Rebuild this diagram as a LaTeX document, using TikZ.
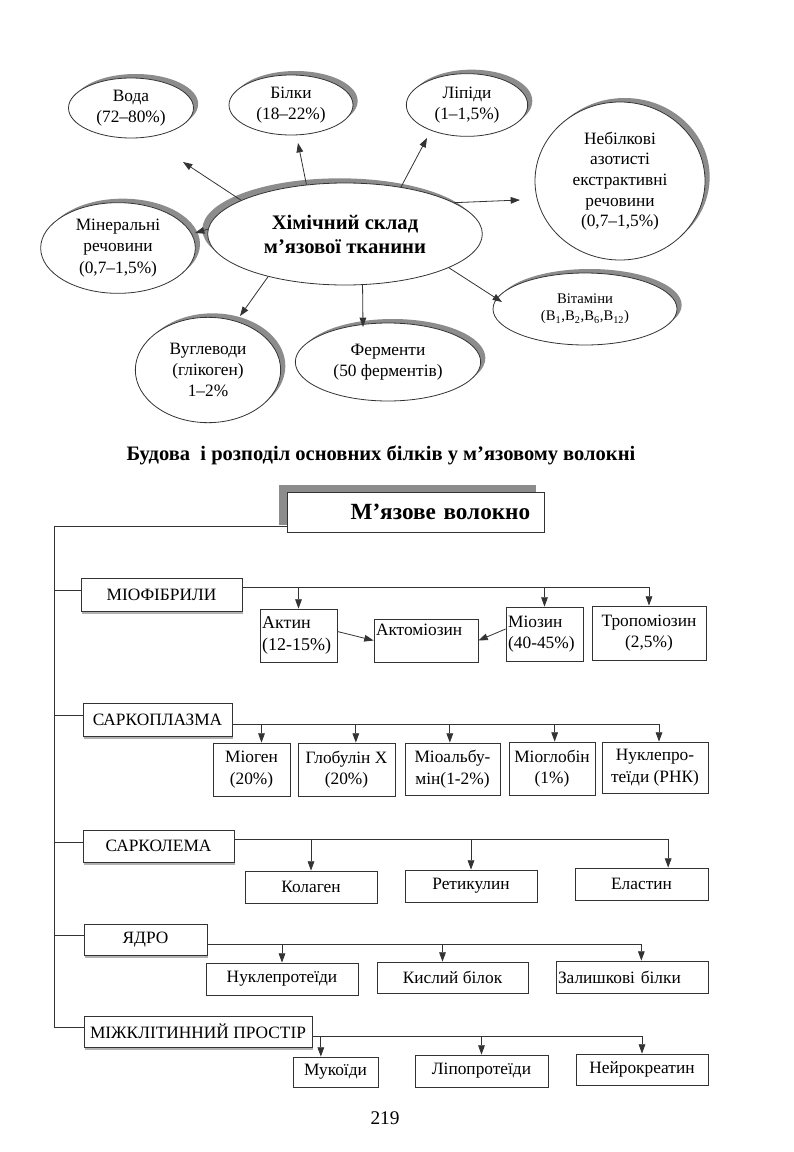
\documentclass[tikz,border=0pt]{standalone}
\usepackage{fontspec}
\setmainfont{Liberation Serif}
\usetikzlibrary{shapes.geometric, arrows.meta, shadows}
\tikzstyle{blob} = [ellipse, draw=black!80, line width=0.6pt, fill=white, inner sep=0pt, align=center, font=\fontsize{13}{16}\selectfont]
\tikzstyle{rimshadow} = [drop shadow={shadow xshift=3.5pt, shadow yshift=3pt, fill=black!45, opacity=1}]
\tikzstyle{leftshadow} = [drop shadow={shadow xshift=-4pt, shadow yshift=3.5pt, fill=black!45, opacity=1}]
\tikzstyle{part} = [rectangle, draw=black!80, line width=0.6pt, fill=white, inner sep=2pt, font=\fontsize{13}{16}\selectfont, drop shadow={shadow xshift=1pt, shadow yshift=-2pt, fill=black!30, opacity=1}]
\tikzstyle{item} = [rectangle, draw=black!80, line width=0.6pt, fill=white, inner sep=1.5pt, align=center, font=\fontsize{13}{16}\selectfont]
\tikzstyle{arrow} = [line width=0.6pt, draw=black!80, -{Triangle[length=7pt,width=5pt]}]
\tikzstyle{wire} = [line width=0.6pt, draw=black!80]

\begin{document}
\begin{tikzpicture}[x=0.75pt, y=-0.75pt]
        \fill[white] (0,0) rectangle (793,1152);
        \useasboundingbox (0,0) rectangle (793,1152);

        % chemical composition
        \node (chem) [blob, leftshadow, minimum width=206pt, minimum height=76.5pt, font=\bfseries\fontsize{15.5}{18}\selectfont] at (345,234) {Хімічний склад\\м’язової тканини};
        \node (voda) [blob, rimshadow, minimum width=93.75pt, minimum height=45pt] at (131,108) {Вода\\(72–80\%)};
        \node (bilky) [blob, rimshadow, minimum width=93pt, minimum height=45pt] at (291,105) {Білки\\(18–22\%)};
        \node (lipidy) [blob, rimshadow, minimum width=91pt, minimum height=47pt] at (467,105) {Ліпіди\\(1–1,5\%)};
        \node (nebilk) [blob, rimshadow, minimum width=127.5pt, minimum height=118.5pt, font=\fontsize{13}{15.5}\selectfont] at (620,181) {Небілкові\\азотисті\\екстрактивні\\речовини\\(0,7–1,5\%)};
        \node (miner) [blob, rimshadow, minimum width=116pt, minimum height=68pt] at (118,248) {Мінеральні\\речовини\\(0,7–1,5\%)};
        \node (vuhl) [blob, rimshadow, minimum width=109pt, minimum height=79pt] at (208,370) {Вуглеводи\\(глікоген)\\1–2\%};
        \node (ferm) [blob, rimshadow, minimum width=139pt, minimum height=58.5pt] at (388,362) {Ферменти\\(50 ферментів)};
        \node (vitam) [blob, rimshadow, minimum width=138pt, minimum height=54pt, font=\fontsize{11}{13}\selectfont] at (585,309) {Вітаміни\\(B\textsubscript{1},B\textsubscript{2},B\textsubscript{6},B\textsubscript{12})};

        \coordinate (voda-tip) at (183,162);
        \coordinate (bilky-tip) at (298,143);
        \coordinate (lipidy-tip) at (427,138);
        \coordinate (nebilk-tip) at (520,200);
        \coordinate (miner-tip) at (195,233);
        \coordinate (vuhl-tip) at (240,316);
        \coordinate (ferm-tip) at (363,327);
        \coordinate (vitam-tip) at (502,302);

        \draw [arrow] (chem.162) -- (voda-tip);
        \draw [arrow] (chem.128) -- (bilky-tip);
        \draw [arrow] (chem.40) -- (lipidy-tip);
        \draw [arrow] (chem.16) -- (nebilk-tip);
        \draw [arrow] (chem.178) -- (miner-tip);
        \draw [arrow] (chem.209) -- (vuhl-tip);
        \draw [arrow] (chem.289) -- (ferm-tip);
        \draw [arrow] (chem.342) -- (vitam-tip);

        % proteins of the muscle fibre
        \node (title) at (381,455) {\bfseries\fontsize{15.4}{18}\selectfont Будова~ і розподіл основних білків у м’язовому волокні};
        \node (fibre) [rectangle, draw=black!80, line width=0.6pt, fill=white, minimum width=192.75pt, minimum height=30pt, text width=172pt, align=right, font=\bfseries\fontsize{17.4}{20}\selectfont, drop shadow={shadow xshift=-6pt, shadow yshift=5pt, fill=black!45, opacity=1}] at (415.5,512) {М’язове волокно};

        \node (miof) [part, minimum width=120.75pt, minimum height=24.75pt] at (161.5,594.5) {МІОФІБРИЛИ};
        \node (sarkoplazma) [part, minimum width=111.75pt, minimum height=24.75pt] at (157.5,719.5) {САРКОПЛАЗМА};
        \node (sarkolema) [part, minimum width=113.25pt, minimum height=24pt] at (158.5,846) {САРКОЛЕМА};
        \node (yadro) [part, minimum width=92.25pt, minimum height=23.25pt] at (145.5,939.5) {ЯДРО};
        \node (mizh) [part, minimum width=171pt, minimum height=23.25pt] at (198,1031.5) {МІЖКЛІТИННИЙ ПРОСТІР};

        \node (aktin) [item, minimum width=57.75pt, minimum height=39.75pt, text width=54.5pt, align=left, font=\fontsize{13.5}{16}\selectfont] at (298.5,635.5) {Актин\\(12-15\%)};
        \node (aktomioz) [item, minimum width=78pt, minimum height=32.25pt, text width=75pt, align=left] at (426,640.5) {Актоміозин\\~};
        \node (mioz) [item, minimum width=57.75pt, minimum height=40.5pt, text width=54.5pt, align=left] at (544.5,634) {Міозин\\(40-45\%)};
        \node (tropo) [item, minimum width=85.5pt, minimum height=40.5pt] at (649,633) {Тропоміозин\\(2,5\%)};

        \node (miogen) [item, minimum width=57.75pt, minimum height=39.75pt] at (251.5,769.5) {Міоген\\(20\%)};
        \node (glob) [item, minimum width=72.75pt, minimum height=39.75pt] at (346.5,769.5) {Глобулін X\\(20\%)};
        \node (mioalb) [item, minimum width=71.25pt, minimum height=39pt] at (452.5,769) {Міоальбу-\\мін(1-2\%)};
        \node (mioglob) [item, minimum width=64.5pt, minimum height=39.75pt] at (552,768.5) {Міоглобін\\(1\%)};
        \node (nukl) [item, minimum width=79.5pt, minimum height=38.25pt] at (655,767.5) {Нуклепро-\\теїди (РНК)};

        \node (kolagen) [item, minimum width=99pt, minimum height=24pt] at (311,887) {Колаген};
        \node (retik) [item, minimum width=99pt, minimum height=24pt] at (471,886) {Ретикулин};
        \node (elastin) [item, minimum width=99.75pt, minimum height=24pt] at (641.5,884) {Еластин};

        \node (nuklprot) [item, minimum width=114pt, minimum height=24pt] at (282,979) {Нуклепротеїди};
        \node (kysl) [item, minimum width=113.25pt, minimum height=23.25pt] at (452.5,977.5) {Кислий білок};
        \node (zalysh) [item, minimum width=114pt, minimum height=24pt, text width=111pt, align=left] at (632,977) {Залишкові білки};

        \node (mukoid) [item, minimum width=63.75pt, minimum height=22.5pt] at (335.5,1072) {Мукоїди};
        \node (lipoprot) [item, minimum width=99.75pt, minimum height=24pt] at (481.5,1071) {Ліпопротеїди};
        \node (neirokr) [item, minimum width=99pt, minimum height=23.25pt] at (642,1069.5) {Нейрокреатин};

        \node (page) at (385,1118) {\fontsize{14.5}{17}\selectfont 219};

        % trunk and branches
        \coordinate (trunk) at (54,526);
        \foreach \p in {miof, sarkoplazma, sarkolema, yadro, mizh} {
            \coordinate (\p-br) at ([yshift=3pt]\p.west);
            \draw [wire] (trunk |- \p-br) -- (\p-br);
        }
        \draw [wire] (fibre.west |- trunk) -- (trunk) -- (trunk |- mizh-br);

        % buses to the proteins
        \coordinate (mf-bus) at ([yshift=5pt]miof.east);
        \coordinate (sp-bus) at ([yshift=-3.4pt]sarkoplazma.east);
        \coordinate (sl-bus) at ([yshift=5.25pt]sarkolema.east);
        \coordinate (ya-bus) at ([yshift=-3.4pt]yadro.east);
        \coordinate (mp-bus) at ([yshift=-3.4pt]mizh.east);

        \draw [arrow] (mf-bus) -| (tropo.north);
        \foreach \b in {aktin, mioz}
            \draw [arrow] (\b.north |- mf-bus) -- (\b.north);
        \draw [arrow] ([yshift=3pt]aktin.east) -- (aktomioz.west);
        \draw [arrow] ([yshift=3.75pt]mioz.west) -- (aktomioz.east);

        \coordinate (nukl-in) at ([xshift=3pt]nukl.north);
        \draw [arrow] (sp-bus) -| (nukl-in);
        \foreach \b/\s in {miogen/7.5pt, glob/7pt, mioalb/-2pt, mioglob/2pt} {
            \coordinate (\b-in) at ([xshift=\s]\b.north);
            \draw [arrow] (\b-in |- sp-bus) -- (\b-in);
        }

        \coordinate (elastin-in) at ([xshift=20pt]elastin.north);
        \draw [arrow] (sl-bus) -| (elastin-in);
        \foreach \b in {kolagen, retik}
            \draw [arrow] (\b.north |- sl-bus) -- (\b.north);

        \coordinate (zalysh-in) at ([xshift=7pt]zalysh.north);
        \draw [arrow] (ya-bus) -| (zalysh-in);
        \foreach \b/\s in {nuklprot/0pt, kysl/-7.5pt} {
            \coordinate (\b-in) at ([xshift=\s]\b.north);
            \draw [arrow] (\b-in |- ya-bus) -- (\b-in);
        }

        \draw [arrow] (mp-bus) -| (neirokr.north);
        \foreach \b/\s in {mukoid/-11pt, lipoprot/0pt} {
            \coordinate (\b-in) at ([xshift=\s]\b.north);
            \draw [arrow] (\b-in |- mp-bus) -- (\b-in);
        }
\end{tikzpicture}
\end{document}
